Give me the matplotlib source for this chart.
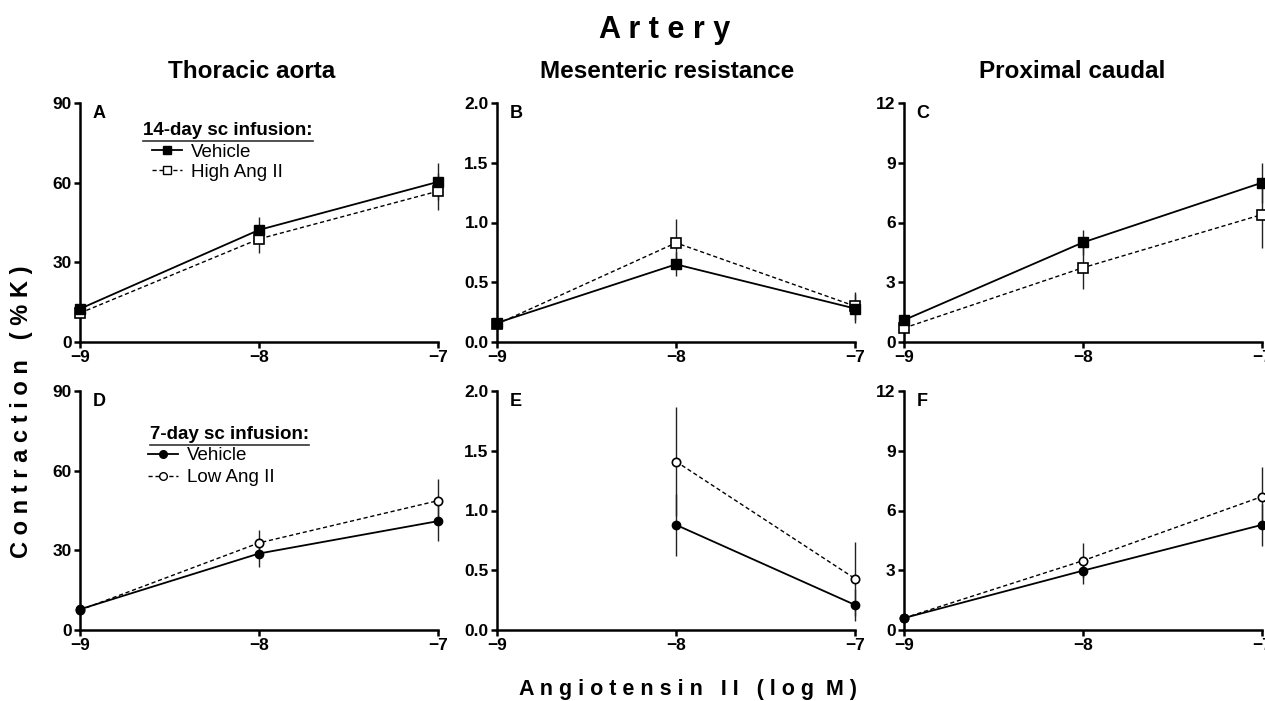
import matplotlib
matplotlib.use("Agg")
import matplotlib.pyplot as plt
from matplotlib.lines import Line2D
import numpy as np

plt.rcParams['font.family'] = ['Liberation Sans', 'DejaVu Sans']

dose = [-9, -8, -7]

# top row: 14-day sc infusion (Vehicle vs High Ang II)
aorta_veh = [12.5, 42.2, 60.3]
aorta_veh_err = [1.5, 5.0, 7.0]
aorta_high = [10.9, 38.8, 56.8]
aorta_high_err = [1.5, 5.4, 7.0]

mes_veh = [0.16, 0.65, 0.28]
mes_veh_err = [0.03, 0.10, 0.12]
mes_high = [0.15, 0.83, 0.30]
mes_high_err = [0.03, 0.20, 0.12]

caud_veh = [1.1, 5.0, 8.0]
caud_veh_err = [0.2, 0.62, 1.0]
caud_high = [0.7, 3.73, 6.4]
caud_high_err = [0.2, 1.05, 1.7]

# bottom row: 7-day sc infusion (Vehicle vs Low Ang II)
aorta7_veh = [7.8, 28.8, 41.0]
aorta7_veh_err = [1.0, 5.2, 7.5]
aorta7_low = [7.5, 32.8, 48.7]
aorta7_low_err = [1.0, 5.0, 8.0]

mes7_veh = [np.nan, 0.88, 0.21]
mes7_veh_err = [0, 0.26, 0.136]
mes7_low = [np.nan, 1.41, 0.43]
mes7_low_err = [0, 0.46, 0.31]

caud7_veh = [0.6, 2.98, 5.28]
caud7_veh_err = [0.1, 0.67, 1.05]
caud7_low = [0.6, 3.48, 6.7]
caud7_low_err = [0.1, 0.87, 1.5]

col_titles = ["Thoracic aorta", "Mesenteric resistance", "Proximal caudal"]
panel_letters = ["A", "B", "C", "D", "E", "F"]
ymax = [90, 2.0, 12]
yticks = [[0, 30, 60, 90], [0.0, 0.5, 1.0, 1.5, 2.0], [0, 3, 6, 9, 12]]

fig = plt.figure(figsize=(12.65, 7.01), dpi=100)

lefts = [80, 497, 904]
bottoms = [342, 630]
aw, ah = 358, 239
W, H = 1265, 701

top_rows = [(aorta_veh, aorta_veh_err, aorta_high, aorta_high_err),
            (mes_veh, mes_veh_err, mes_high, mes_high_err),
            (caud_veh, caud_veh_err, caud_high, caud_high_err)]
bot_rows = [(aorta7_veh, aorta7_veh_err, aorta7_low, aorta7_low_err),
            (mes7_veh, mes7_veh_err, mes7_low, mes7_low_err),
            (caud7_veh, caud7_veh_err, caud7_low, caud7_low_err)]

axes = []
for r, (rows, mk) in enumerate([(top_rows, 's'), (bot_rows, 'o')]):
    for c in range(3):
        ax = fig.add_axes([lefts[c] / W, (H - bottoms[r]) / H, aw / W, ah / H])
        axes.append(ax)
        veh, veh_e, trt, trt_e = rows[c]
        ms = 6.5 if mk == 's' else 6
        ax.errorbar(dose, trt, yerr=trt_e, fmt='none', ecolor='#222222', elinewidth=1.0, clip_on=False, zorder=2)
        ax.errorbar(dose, veh, yerr=veh_e, fmt='none', ecolor='#222222', elinewidth=1.0, clip_on=False, zorder=2)
        ax.plot(dose, trt, color='black', ls=(0, (3, 2)), lw=1.0, marker=mk, ms=ms,
                mfc='white', mec='black', mew=1.2, clip_on=False, zorder=3)
        ax.plot(dose, veh, color='black', ls='-', lw=1.3, marker=mk, ms=ms,
                mfc='black', mec='black', clip_on=False, zorder=4)
        ax.set_xlim(-9, -7)
        ax.set_ylim(0, ymax[c])
        ax.set_xticks([-9, -8, -7])
        ax.set_yticks(yticks[c])
        if c == 1:
            ax.set_yticklabels(["%.1f" % v for v in yticks[c]])
        for s in ['top', 'right']:
            ax.spines[s].set_visible(False)
        for s in ['left', 'bottom']:
            ax.spines[s].set_linewidth(1.8)
        ax.tick_params(width=1.8, length=4, labelsize=12.5, pad=2)
        for lab in ax.get_xticklabels() + ax.get_yticklabels():
            lab.set_fontweight('bold')
        ax.text(0.035, 0.99, panel_letters[r * 3 + c], transform=ax.transAxes,
                fontsize=13, fontweight='bold', va='top', ha='left')

# legends
leg_a = [Line2D([], [], color='black', lw=1.3, marker='s', ms=6, mfc='black'),
         Line2D([], [], color='black', lw=1.0, ls=(0, (3, 2)), marker='s', ms=6, mfc='white')]
leg_d = [Line2D([], [], color='black', lw=1.3, marker='o', ms=5.5, mfc='black'),
         Line2D([], [], color='black', lw=1.0, ls=(0, (3, 2)), marker='o', ms=5.5, mfc='white')]
axes[0].legend(leg_a, ["Vehicle", "High Ang II"], loc='upper left', bbox_to_anchor=(0.2, 0.83),
               frameon=False, fontsize=13.5, handlelength=1.6, handletextpad=0.5,
               labelspacing=0.15, borderpad=0, borderaxespad=0)
axes[3].legend(leg_d, ["Vehicle", "Low Ang II"], loc='upper left', bbox_to_anchor=(0.19, 0.765),
               frameon=False, fontsize=13.5, handlelength=1.6, handletextpad=0.5,
               labelspacing=0.25, borderpad=0, borderaxespad=0)
t1 = axes[0].text(0.176, 0.865, "14-day sc infusion:", transform=axes[0].transAxes,
                  fontsize=13.5, fontweight='bold', va='baseline')
t2 = axes[3].text(0.196, 0.798, "7-day sc infusion:", transform=axes[3].transAxes,
                  fontsize=13.5, fontweight='bold', va='baseline')

# column titles and figure labels
title_x = [252, 667, 1072]
for c in range(3):
    fig.text(title_x[c] / W, 1 - 72 / H, col_titles[c], fontsize=17.5, fontweight='bold',
             ha='center', va='center')
fig.text(665 / W, 1 - 30 / H, "A r t e r y", fontsize=22, fontweight='bold', ha='center', va='center')
fig.text(22 / W, 1 - 412 / H, "C o n t r a c t i o n   ( % K )", fontsize=17, fontweight='bold',
         rotation=90, ha='center', va='center')
fig.text(688 / W, 1 - 690 / H, "A n g i o t e n s i n   I I   ( l o g  M )", fontsize=15.5,
         fontweight='bold', ha='center', va='center')

# underline the legend headings
fig.canvas.draw()
rend = fig.canvas.get_renderer()
for t in (t1, t2):
    bb = t.get_window_extent(rend)
    y = bb.y0 - 1.5
    fig.add_artist(Line2D([bb.x0 / W, bb.x1 / W], [y / H, y / H], color='#333333', lw=1.2,
                          transform=fig.transFigure))

fig.savefig("out.png", dpi=100)
